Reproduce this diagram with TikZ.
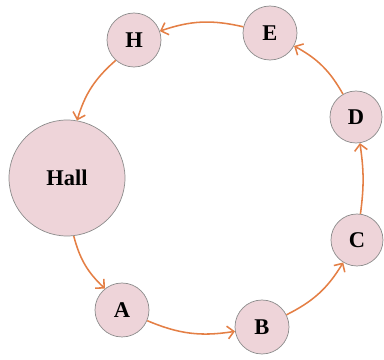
\documentclass[tikz,border=0pt]{standalone}
\usepackage{fontspec}
\setmainfont{Liberation Serif}
\usetikzlibrary{arrows.meta}
\definecolor{roomfill}{HTML}{EED4D9}
\definecolor{roomline}{HTML}{8C8C8C}
\definecolor{pathline}{HTML}{E47F45}

\begin{document}
\begin{tikzpicture}[
  room/.style={circle,draw=roomline,fill=roomfill,line width=0.5pt,
    minimum size=1.35cm,inner sep=0pt,font=\fontsize{16}{18}\selectfont\bfseries},
  hall/.style={room,minimum size=2.9cm},
  walk/.style={-{Straight Barb[length=1.6mm,width=3.2mm]},draw=pathline,
    line width=1.1pt,bend right=16}]
  \useasboundingbox (0,0) rectangle (9.6,9);
  \draw (1.675,4.55) node[hall] (Hall) {Hall};
  \draw (3.05,1.25) node[room] (A) {A};
  \draw (6.55,0.825) node[room] (B) {B};
  \draw (8.925,3.0) node[room,minimum size=1.3cm] (C) {C};
  \draw (8.9,6.075) node[room,minimum size=1.3cm] (D) {D};
  \draw (6.75,8.175) node[room] (E) {E};
  \draw (3.35,8.0) node[room] (H) {H};
  \draw[walk] (Hall) to (A);
  \draw[walk] (A) to (B);
  \draw[walk] (B) to (C);
  \draw[walk,bend right=8] (C) to (D);
  \draw[walk] (D) to (E);
  \draw[walk] (E) to (H);
  \draw[walk] (H) to (Hall);
\end{tikzpicture}
\end{document}
